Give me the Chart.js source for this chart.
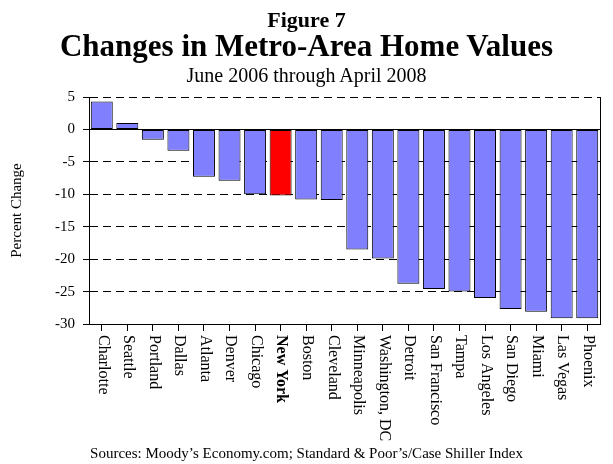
<!DOCTYPE html>
<html lang="en">
<head>
    <meta charset="UTF-8">
    <title>Changes in Metro-Area Home Values</title>
    <style>
        body { margin: 0; background: #fff; font-family: 'Liberation Serif', 'Times New Roman', serif; }
        .wrap { position: relative; width: 613px; height: 464px; }
        .txt { position: absolute; left: 0; width: 613px; text-align: center; color: #000; white-space: nowrap; line-height: 1.107; }
        #fig { top: 8px; font-size: 22px; font-weight: bold; }
        #main { top: 29px; font-size: 31px; font-weight: bold; }
        #sub { top: 64px; font-size: 20px; }
        #src { top: 445px; font-size: 15px; }
        canvas { position: absolute; left: 0; top: 0; }
    </style>
</head>
<body>
    <div class="wrap">
        <canvas id="chart" width="613" height="464"></canvas>
        <div class="txt" id="fig">Figure 7</div>
        <div class="txt" id="main">Changes in Metro-Area Home Values</div>
        <div class="txt" id="sub">June 2006 through April 2008</div>
        <div class="txt" id="src">Sources: Moody’s Economy.com; Standard &amp; Poor’s/Case Shiller Index</div>
    </div>

    <script src="https://cdn.jsdelivr.net/npm/chart.js"></script>
    <script>
        // Metro areas and percent change in home values
        const cities = ['Charlotte', 'Seattle', 'Portland', 'Dallas', 'Atlanta', 'Denver', 'Chicago',
            'New York', 'Boston', 'Cleveland', 'Minneapolis', 'Washington, DC', 'Detroit',
            'San Francisco', 'Tampa', 'Los Angeles', 'San Diego', 'Miami', 'Las Vegas', 'Phoenix'];
        const changes = [4.3, 1.0, -1.6, -3.3, -7.3, -7.9, -10.0, -10.2, -10.8, -10.9, -18.5,
            -19.9, -23.8, -24.6, -25.0, -26.0, -27.7, -28.1, -29.1, -29.1];
        const yTicks = [5, 0, -5, -10, -15, -20, -25, -30];
        const highlight = 'New York';

        const serif = "'Liberation Serif', 'Times New Roman', serif";

        // x labels read top to bottom, so draw them ourselves
        const cityLabels = {
            id: 'cityLabels',
            afterDraw(chart) {
                const ctx = chart.ctx;
                const x = chart.scales.x;
                ctx.save();
                ctx.fillStyle = '#000';
                ctx.textAlign = 'left';
                ctx.textBaseline = 'middle';
                cities.forEach((c, i) => {
                    const px = x.getPixelForValue(i);
                    ctx.save();
                    ctx.translate(px + 1, x.top + 11);
                    ctx.rotate(Math.PI / 2);
                    ctx.font = (c === highlight ? 'bold ' : '') + '16px ' + serif;
                    ctx.fillText(c, 0, 0);
                    ctx.restore();
                });
                // right frame edge
                const a = chart.chartArea;
                ctx.strokeStyle = '#000';
                ctx.lineWidth = 1;
                ctx.beginPath();
                ctx.moveTo(a.right + 0.5, a.top);
                ctx.lineTo(a.right + 0.5, a.bottom);
                ctx.stroke();
                ctx.restore();
            }
        };

        new Chart(document.getElementById('chart'), {
            type: 'bar',
            data: {
                labels: cities,
                datasets: [{
                    data: changes,
                    backgroundColor: cities.map(c => c === highlight ? '#ff0000' : '#8080ff'),
                    borderColor: '#000',
                    borderWidth: 1,
                    borderSkipped: false,
                    categoryPercentage: 1,
                    barPercentage: 0.86
                }]
            },
            options: {
                responsive: false,
                animation: false,
                layout: { padding: { top: 97, right: 13, left: 0, bottom: 0 } },
                plugins: {
                    legend: { display: false },
                    tooltip: { enabled: false }
                },
                scales: {
                    x: {
                        afterFit: s => { s.height = 140; },
                        grid: { offset: false, drawOnChartArea: false, drawTicks: true, tickLength: 7, color: '#000' },
                        border: { color: '#000', width: 1 },
                        ticks: { display: false }
                    },
                    y: {
                        min: -30,
                        max: 5,
                        afterFit: s => { s.width = 89; },
                        afterBuildTicks: s => { s.ticks = yTicks.map(v => ({ value: v })); },
                        title: {
                            display: true,
                            text: 'Percent Change',
                            color: '#000',
                            font: { family: serif, size: 15 },
                            padding: { top: 8, bottom: 0 }
                        },
                        ticks: {
                            color: '#000',
                            font: { family: serif, size: 15 },
                            padding: 8
                        },
                        grid: {
                            color: ctx => (ctx.tick && ctx.tick.value === -30) ? 'rgba(0,0,0,0)' : '#000',
                            lineWidth: 1,
                            tickLength: 6,
                            tickColor: '#000'
                        },
                        border: {
                            color: '#000',
                            width: 1,
                            dash: ctx => (ctx.tick && ctx.tick.value === 0) ? [] : [8, 5]
                        }
                    }
                }
            },
            plugins: [cityLabels]
        });
    </script>
</body>
</html>
